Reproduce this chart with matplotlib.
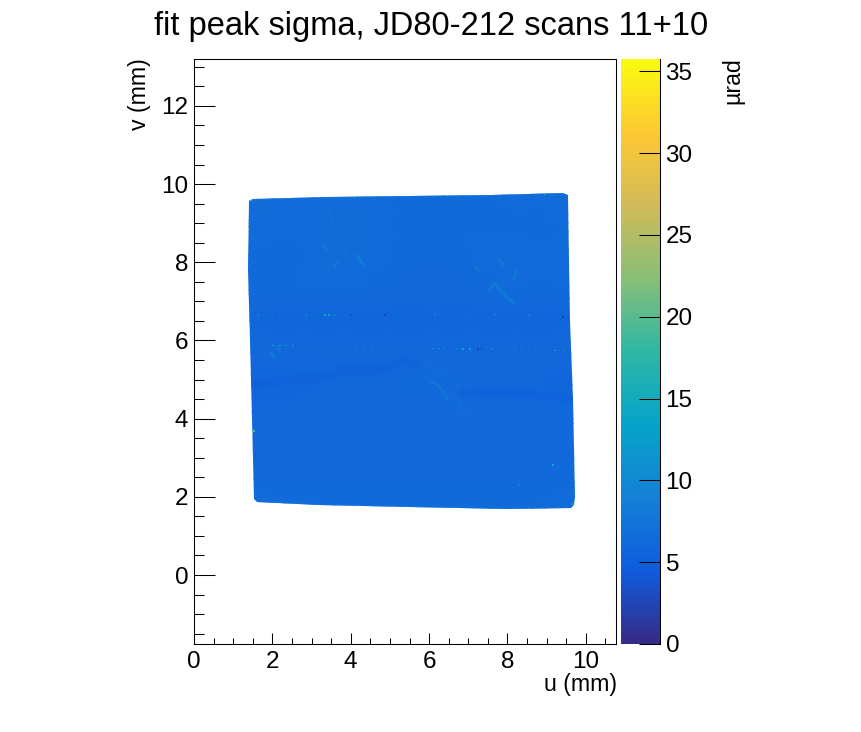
import numpy as np
import matplotlib
matplotlib.use("Agg")
import matplotlib.pyplot as plt
from matplotlib.colors import LinearSegmentedColormap, Normalize
from matplotlib.collections import LineCollection
from matplotlib.patches import Polygon
from matplotlib.ticker import MultipleLocator

plt.rcParams['font.family'] = ['Liberation Sans', 'DejaVu Sans']

# ---------- data ----------
title = "fit peak sigma, JD80-212 scans 11+10"
grid_u = [1.3, 2.3, 3.3, 4.4, 5.5, 6.6, 7.7, 8.8, 9.8]
grid_v = [9.9, 9.0, 8.1, 7.2, 6.6, 5.8, 5.0, 4.0, 3.0, 2.3, 1.6]
body = [
    [6.6, 6.4, 6.4, 6.4, 6.3, 6.3, 6.4, 6.4, 6.6],
    [6.5, 6.4, 6.5, 6.5, 6.2, 6.2, 6.3, 6.3, 6.5],
    [6.4, 6.3, 6.5, 6.5, 6.2, 6.2, 6.5, 6.4, 6.4],
    [6.3, 6.2, 6.2, 6.2, 6.1, 6.1, 6.3, 6.3, 6.3],
    [5.9, 5.8, 5.8, 5.8, 5.8, 5.8, 5.8, 5.8, 5.9],
    [6.1, 6.0, 5.9, 5.9, 5.9, 6.0, 6.0, 6.0, 6.1],
    [5.7, 5.8, 5.9, 6.0, 6.2, 6.3, 6.0, 5.9, 5.8],
    [6.1, 6.1, 6.1, 6.1, 6.1, 6.1, 6.1, 6.1, 6.2],
    [6.1, 6.0, 6.0, 6.0, 6.0, 6.0, 6.0, 6.0, 6.2],
    [6.3, 6.2, 6.2, 6.2, 6.2, 6.2, 6.2, 6.2, 6.4],
    [6.5, 6.4, 6.3, 6.3, 6.3, 6.3, 6.3, 6.4, 6.6],
]
outline_u = [1.40, 1.50, 3.4, 5.5, 7.6, 9.42, 9.54, 9.58, 9.60, 9.66, 9.72, 9.70, 9.62, 8.0, 5.5, 3.2, 1.60, 1.53, 1.50, 1.47, 1.45, 1.43, 1.38]
outline_v = [9.58, 9.63, 9.66, 9.70, 9.73, 9.78, 9.72, 8.0, 6.5, 4.5, 2.0, 1.78, 1.71, 1.70, 1.73, 1.79, 1.87, 1.95, 3.0, 4.0, 5.0, 6.0, 7.8]

band_values = [5.0, 4.9]
band_u = [[1.47, 2.62, 3.47, 3.72, 4.74, 5.42, 5.76], [6.78, 8.14, 9.67]]
band_v = [[4.86, 4.99, 5.07, 5.24, 5.24, 5.50, 5.33], [4.65, 4.65, 4.52]]

streak_values = [7.5, 7, 7.5, 10, 9.5, 9, 7.5, 10.5, 9.5, 9, 9.5, 10.5, 9, 9, 7.5, 7,
                 8, 8]
streak_u = [[3.43, 3.55], [4.02, 4.19], [4.02, 4.40], [4.15, 4.34], [3.30, 3.41], [3.57, 3.68],
            [3.81, 3.88], [7.51, 7.68, 7.97, 8.19], [7.17, 7.28], [7.76, 7.93], [8.14, 8.23],
            [1.94, 2.07], [2.11, 2.21], [6.02, 6.27, 6.49], [6.74, 6.95], [5.93, 6.36],
            [1.40, 3.4, 5.5, 7.6, 9.42], [1.60, 3.2, 5.5, 8.0, 9.62]]
streak_v = [[9.38, 8.96], [9.38, 8.87], [8.78, 8.19], [8.19, 7.91], [8.44, 8.31], [7.85, 8.02],
            [8.49, 8.10], [7.25, 7.46, 7.12, 6.95], [7.89, 7.79], [8.10, 7.89], [7.55, 7.80],
            [5.71, 5.52], [5.84, 5.69], [4.95, 4.82, 4.48], [4.48, 4.09], [5.42, 5.07],
            [9.60, 9.66, 9.70, 9.73, 9.78], [1.87, 1.79, 1.73, 1.70, 1.71]]

dot_u = [1.64, 2.11, 2.87, 3.34, 3.45, 3.58, 4.02, 4.53, 4.87, 6.15, 6.95, 7.68, 8.57, 9.42,
         2.02, 2.19, 2.36, 2.53, 3.38, 3.64, 4.15, 4.32, 4.53, 6.10, 6.27, 6.40, 6.70, 6.87,
         7.04, 7.25, 7.34, 7.59, 8.31, 8.48, 8.61, 9.21, 9.46,
         1.50, 1.53, 1.46, 4.11, 5.34, 8.06, 8.95, 9.66, 9.16, 8.31]
dot_v = [6.65, 6.65, 6.65, 6.65, 6.65, 6.65, 6.65, 6.66, 6.65, 6.66, 6.67, 6.67, 6.65, 6.60,
         5.87, 5.87, 5.87, 5.87, 5.85, 5.85, 5.84, 5.84, 5.84, 5.79, 5.79, 5.79, 5.79, 5.78,
         5.78, 5.78, 5.78, 5.78, 5.78, 5.78, 5.78, 5.75, 5.75,
         3.65, 3.68, 9.58, 9.66, 9.68, 9.73, 9.74, 1.82, 2.81, 2.30]
dot_values = [13, 2, 13, 14, 14, 14, 2, 2, 2, 13, 14, 12, 14, 2,
              14, 14, 13, 13, 2, 2, 14, 14, 14, 14, 15, 15, 13, 14,
              14, 2, 2, 14, 3, 3, 3, 14, 14,
              31, 20, 17, 15, 14, 14, 20, 17, 14, 11]

x_ticks = [0, 2, 4, 6, 8, 10]
y_ticks = [0, 2, 4, 6, 8, 10, 12]
cb_ticks = [0, 5, 10, 15, 20, 25, 30, 35]

# ROOT kBird palette
bird_pos = [0, .125, .25, .375, .5, .625, .75, .875, 1]
bird_r = [0.2082, 0.0592, 0.0780, 0.0232, 0.1802, 0.5301, 0.8186, 0.9956, 0.9764]
bird_g = [0.1664, 0.3599, 0.5041, 0.6419, 0.7178, 0.7492, 0.7328, 0.7862, 0.9832]
bird_b = [0.5293, 0.8684, 0.8385, 0.7914, 0.6425, 0.4662, 0.3499, 0.1968, 0.0539]
cmap = LinearSegmentedColormap.from_list("bird", list(zip(bird_pos, zip(bird_r, bird_g, bird_b))), N=255)
norm = Normalize(0, 35.75)

# ---------- figure ----------
W, H = 862, 732
fig = plt.figure(figsize=(W / 100, H / 100), dpi=100)
L, R, T, B = 194, 616, 59, 644
ax = fig.add_axes([L / W, 1 - B / H, (R - L) / W, (B - T) / H])
ax.set_xlim(0, 10.77)
ax.set_ylim(-1.765, 13.2)

clip = Polygon(np.column_stack([outline_u, outline_v]), closed=True, transform=ax.transData)
mesh = ax.pcolormesh(grid_u, grid_v, np.array(body), cmap=cmap, norm=norm, shading='gouraud', zorder=1)
mesh.set_clip_path(clip)

for width, alpha in zip([7, 4], [0.25, 0.35]):
    for us, vs, val in zip(band_u, band_v, band_values):
        lc = LineCollection([np.column_stack([us, vs])], cmap=cmap, norm=norm,
                            linewidths=width, alpha=alpha, zorder=2)
        lc.set_array([val])
        ax.add_collection(lc)
        lc.set_clip_path(clip)

segs = [np.column_stack([us, vs]) for us, vs in zip(streak_u, streak_v)]
for width, alpha in zip([2.6, 1.0], [0.25, 0.6]):
    lc = LineCollection(segs, cmap=cmap, norm=norm, linewidths=width, alpha=alpha, zorder=3)
    lc.set_array(np.array(streak_values, dtype=float))
    ax.add_collection(lc)
    lc.set_clip_path(clip)

dots = ax.scatter(dot_u, dot_v, c=dot_values, cmap=cmap, norm=norm, marker='s', s=1.0, linewidths=0, zorder=4)
dots.set_clip_path(clip)

ax.xaxis.set_minor_locator(MultipleLocator(0.5))
ax.yaxis.set_minor_locator(MultipleLocator(0.5))
ax.set_xticks(x_ticks)
ax.set_yticks(y_ticks)
ax.tick_params(axis='x', which='major', direction='in', length=8, width=0.75, labelsize=17.5, pad=5)
ax.tick_params(axis='x', which='minor', direction='in', length=4, width=0.75)
ax.tick_params(axis='y', which='major', direction='in', length=15, width=0.75, labelsize=17.5, pad=4)
ax.tick_params(axis='y', which='minor', direction='in', length=7.5, width=0.75)
for s in ax.spines.values():
    s.set_linewidth(0.75)

fig.text((R + 1) / W, 1 - 685 / H, "u (mm)", ha='right', va='center', fontsize=16.7)
fig.text(140 / W, 1 - 58 / H, "v (mm)", ha='center', va='top', rotation=90, fontsize=16.7)
fig.text(431 / W, 1 - 26 / H, title, ha='center', va='center', fontsize=23.5)

# colour bar
cax = fig.add_axes([621 / W, 1 - B / H, 39 / W, (B - T) / H])
cb = fig.colorbar(plt.cm.ScalarMappable(norm=norm, cmap=cmap), cax=cax)
cb.outline.set_visible(False)
cb.set_ticks(cb_ticks)
cb.minorticks_off()
cax.spines['right'].set_visible(True)
cax.spines['right'].set_linewidth(0.75)
cax.tick_params(axis='y', which='major', direction='in', length=15, width=0.75, labelsize=17.5, pad=4, color='black')
fig.text(733 / W, 1 - 57 / H, "µrad", ha='center', va='top', rotation=90, fontsize=16.7)

fig.savefig("out.png", dpi=100)
